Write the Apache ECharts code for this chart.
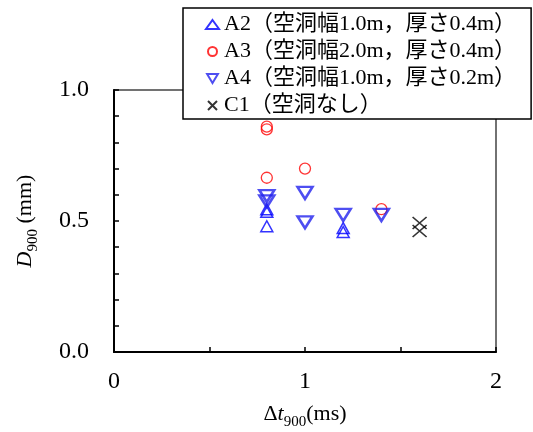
<!DOCTYPE html>
<html><head><meta charset="utf-8">
<script src="https://cdn.jsdelivr.net/npm/echarts@6/dist/echarts.min.js"></script>
<style>html,body{margin:0;padding:0;background:#fff}#c{width:533px;height:432px}</style>
</head><body><div id="c"></div>
<script>
const seriesNames = ['A2（空洞幅1.0m，厚さ0.4m）','A3（空洞幅2.0m，厚さ0.4m）','A4（空洞幅1.0m，厚さ0.2m）','C1（空洞なし）'];
const a2 = [[0.8,0.545],[0.8,0.535],[0.8,0.48],[1.2,0.473],[1.2,0.458]];
const a3 = [[0.8,0.86],[0.8,0.85],[0.8,0.665],[1.0,0.70],[1.4,0.545]];
const a4 = [[0.8,0.595],[0.8,0.575],[1.0,0.607],[1.0,0.495],[1.2,0.523],[1.4,0.523]];
const c1 = [[1.6,0.492],[1.6,0.462]];
const xTickLabels = ['0','1','2'];
const yTickLabels = ['0.0','0.5','1.0'];

const FONT = "'Liberation Serif','Times New Roman','Noto Sans CJK JP',serif";
const chart = echarts.init(document.getElementById('c'));
const DOWN = 'path://M0,0 L12,0 L6,10 Z';
const CROSS = 'path://M0,0 L10,10 M10,0 L0,10';
const nameRich = {
  a:{fontFamily:FONT,fontSize:22,color:'#000',lineHeight:24,verticalAlign:'bottom'},
  i:{fontFamily:FONT,fontSize:22,color:'#000',fontStyle:'italic',lineHeight:24,verticalAlign:'bottom'},
  s:{fontFamily:FONT,fontSize:15,color:'#000',lineHeight:24,verticalAlign:'bottom',padding:[0,0,-5,0]}
};
chart.setOption({
  animation:false,
  textStyle:{fontFamily:FONT},
  grid:{left:114,right:37,top:90,bottom:80,containLabel:false,outerBoundsMode:'none',
        show:true,borderColor:'#444',borderWidth:1.5,backgroundColor:'transparent'},
  legend:{
    orient:'vertical',left:183,top:8,
    backgroundColor:'#fff',borderColor:'#000',borderWidth:1.5,
    padding:[5,15,2,22],itemGap:4,itemWidth:13,itemHeight:9,
    textStyle:{fontFamily:FONT,fontSize:22,color:'#000',lineHeight:23},
    data:seriesNames
  },
  xAxis:{
    type:'value',min:0,max:2,interval:1,
    axisLine:{show:true,lineStyle:{color:'#000',width:2}},
    axisTick:{show:true,inside:true,length:5,lineStyle:{color:'#000',width:1.5}},
    minorTick:{show:true,splitNumber:2,length:5,lineStyle:{color:'#000',width:1.5}},
    splitLine:{show:false},
    axisLabel:{fontFamily:FONT,fontSize:24,color:'#000',margin:18,
      formatter:v=>xTickLabels[Math.round(v)]},
    name:'{a|Δ}{i|t}{s|900}{a|(ms)}',nameLocation:'middle',nameGap:49,
    nameTextStyle:{rich:nameRich}
  },
  yAxis:{
    type:'value',min:0,max:1,interval:0.5,
    axisLine:{show:true,lineStyle:{color:'#000',width:2}},
    axisTick:{show:true,inside:true,length:5,lineStyle:{color:'#000',width:1.5}},
    minorTick:{show:true,splitNumber:5,length:5,lineStyle:{color:'#000',width:1.5}},
    splitLine:{show:false},
    axisLabel:{fontFamily:FONT,fontSize:24,color:'#000',margin:25,
      formatter:v=>yTickLabels[Math.round(v*2)]},
    name:'{i|D}{s|900}{a| (mm)}',nameLocation:'middle',nameGap:78,nameRotate:90,
    nameTextStyle:{rich:nameRich}
  },
  series:[
    {name:seriesNames[0],type:'scatter',data:a2,symbol:'triangle',symbolSize:[12,11],
     itemStyle:{color:'transparent',borderColor:'#0000ff',borderWidth:1.5}},
    {name:seriesNames[1],type:'scatter',data:a3,symbol:'circle',symbolSize:11,
     itemStyle:{color:'transparent',borderColor:'#ff0000',borderWidth:1.3}},
    {name:seriesNames[2],type:'scatter',data:a4,symbol:DOWN,symbolSize:[15,12],
     itemStyle:{color:'transparent',borderColor:'#2222ee',borderWidth:2.5}},
    {name:seriesNames[3],type:'scatter',data:c1,symbol:CROSS,symbolSize:[14,12],
     itemStyle:{color:'transparent',borderColor:'#000',borderWidth:1.5}}
  ]
});
</script></body></html>
